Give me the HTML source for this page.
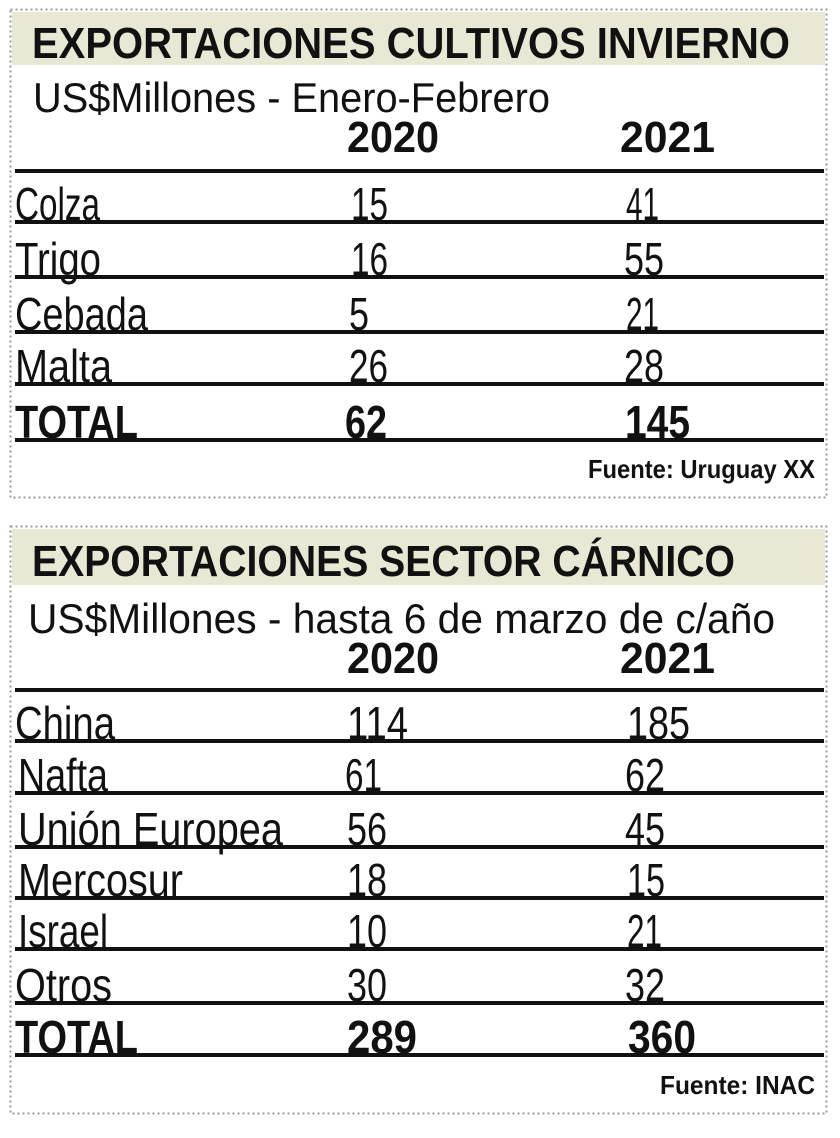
<!DOCTYPE html>
<html><head><meta charset="utf-8"><style>
html,body{margin:0;padding:0;background:#fff;}
svg{display:block;}
text{font-family:"Liberation Sans Narrow","Liberation Sans",sans-serif;fill:#111;}
.h{font-weight:bold;font-size:44px;}
.s{font-size:42px;}
.y{font-size:44px;font-weight:bold;}
.r{font-size:46px;}
.t{font-size:46px;font-weight:bold;}
.f{font-size:26px;font-weight:bold;}
</style></head><body>
<svg width="840" height="1138" viewBox="0 0 840 1138" xmlns="http://www.w3.org/2000/svg">
<rect x="0" y="0" width="840" height="1138" fill="#fff"/>
<rect x="10.5" y="9.5" width="816" height="488" fill="none" stroke="#999" stroke-width="2" stroke-dasharray="2,3"/>
<rect x="12" y="12" width="813" height="53" fill="#e8e8d4"/>
<text class="h" x="32" y="58" textLength="758" lengthAdjust="spacingAndGlyphs">EXPORTACIONES CULTIVOS INVIERNO</text>
<text class="s" x="33" y="112" textLength="517" lengthAdjust="spacingAndGlyphs">US$Millones - Enero-Febrero</text>
<text class="y" x="347" y="152" textLength="92" lengthAdjust="spacingAndGlyphs">2020</text>
<text class="y" x="620" y="152" textLength="95" lengthAdjust="spacingAndGlyphs">2021</text>
<g fill="#111">
<rect x="15" y="169" width="809" height="4"/>
<rect x="15" y="220" width="809" height="4"/>
<rect x="15" y="275" width="809" height="4"/>
<rect x="15" y="330" width="809" height="4"/>
<rect x="15" y="382" width="809" height="4"/>
<rect x="15" y="438" width="809" height="4"/>
</g>
<text class="r" x="15" y="220" textLength="85" lengthAdjust="spacingAndGlyphs">Colza</text>
<text class="r" x="351" y="220" textLength="37" lengthAdjust="spacingAndGlyphs">15</text>
<text class="r" x="626" y="220" textLength="33" lengthAdjust="spacingAndGlyphs">41</text>
<text class="r" x="15" y="275" textLength="86" lengthAdjust="spacingAndGlyphs">Trigo</text>
<text class="r" x="351" y="275" textLength="37" lengthAdjust="spacingAndGlyphs">16</text>
<text class="r" x="624" y="275" textLength="40" lengthAdjust="spacingAndGlyphs">55</text>
<text class="r" x="15" y="330" textLength="133" lengthAdjust="spacingAndGlyphs">Cebada</text>
<text class="r" x="349" y="330" textLength="20" lengthAdjust="spacingAndGlyphs">5</text>
<text class="r" x="626" y="330" textLength="33" lengthAdjust="spacingAndGlyphs">21</text>
<text class="r" x="15" y="382" textLength="97" lengthAdjust="spacingAndGlyphs">Malta</text>
<text class="r" x="349" y="382" textLength="39" lengthAdjust="spacingAndGlyphs">26</text>
<text class="r" x="624" y="382" textLength="40" lengthAdjust="spacingAndGlyphs">28</text>
<text class="t" x="15" y="438" textLength="123" lengthAdjust="spacingAndGlyphs">TOTAL</text>
<text class="t" x="345" y="438" textLength="42" lengthAdjust="spacingAndGlyphs">62</text>
<text class="t" x="625" y="438" textLength="65" lengthAdjust="spacingAndGlyphs">145</text>
<text class="f" x="588" y="478" textLength="227" lengthAdjust="spacingAndGlyphs">Fuente: Uruguay XX</text>

<rect x="10.5" y="526.5" width="816" height="587" fill="none" stroke="#999" stroke-width="2" stroke-dasharray="2,3"/>
<rect x="12" y="529" width="813" height="56" fill="#e8e8d4"/>
<text class="h" x="32" y="576" textLength="703" lengthAdjust="spacingAndGlyphs">EXPORTACIONES SECTOR CÁRNICO</text>
<text class="s" x="28" y="633" textLength="747" lengthAdjust="spacingAndGlyphs">US$Millones - hasta 6 de marzo de c/año</text>
<text class="y" x="347" y="673" textLength="92" lengthAdjust="spacingAndGlyphs">2020</text>
<text class="y" x="620" y="673" textLength="95" lengthAdjust="spacingAndGlyphs">2021</text>
<g fill="#111">
<rect x="15" y="688" width="809" height="4"/>
<rect x="15" y="739" width="809" height="4"/>
<rect x="15" y="791" width="809" height="4"/>
<rect x="15" y="845" width="809" height="4"/>
<rect x="15" y="896" width="809" height="4"/>
<rect x="15" y="947" width="809" height="4"/>
<rect x="15" y="1001" width="809" height="4"/>
<rect x="15" y="1053" width="809" height="4"/>
</g>
<text class="r" x="15" y="739" textLength="100" lengthAdjust="spacingAndGlyphs">China</text>
<text class="r" x="347" y="739" textLength="61" lengthAdjust="spacingAndGlyphs">114</text>
<text class="r" x="627" y="739" textLength="63" lengthAdjust="spacingAndGlyphs">185</text>
<text class="r" x="18" y="791" textLength="90" lengthAdjust="spacingAndGlyphs">Nafta</text>
<text class="r" x="345" y="791" textLength="37" lengthAdjust="spacingAndGlyphs">61</text>
<text class="r" x="625" y="791" textLength="40" lengthAdjust="spacingAndGlyphs">62</text>
<text class="r" x="18" y="845" textLength="265" lengthAdjust="spacingAndGlyphs">Unión Europea</text>
<text class="r" x="347" y="845" textLength="40" lengthAdjust="spacingAndGlyphs">56</text>
<text class="r" x="625" y="845" textLength="40" lengthAdjust="spacingAndGlyphs">45</text>
<text class="r" x="18" y="896" textLength="165" lengthAdjust="spacingAndGlyphs">Mercosur</text>
<text class="r" x="347" y="896" textLength="40" lengthAdjust="spacingAndGlyphs">18</text>
<text class="r" x="627" y="896" textLength="38" lengthAdjust="spacingAndGlyphs">15</text>
<text class="r" x="18" y="947" textLength="90" lengthAdjust="spacingAndGlyphs">Israel</text>
<text class="r" x="347" y="947" textLength="40" lengthAdjust="spacingAndGlyphs">10</text>
<text class="r" x="627" y="947" textLength="35" lengthAdjust="spacingAndGlyphs">21</text>
<text class="r" x="15" y="1001" textLength="97" lengthAdjust="spacingAndGlyphs">Otros</text>
<text class="r" x="347" y="1001" textLength="40" lengthAdjust="spacingAndGlyphs">30</text>
<text class="r" x="625" y="1001" textLength="40" lengthAdjust="spacingAndGlyphs">32</text>
<text class="t" x="15" y="1053" textLength="123" lengthAdjust="spacingAndGlyphs">TOTAL</text>
<text class="t" x="347" y="1053" textLength="70" lengthAdjust="spacingAndGlyphs">289</text>
<text class="t" x="628" y="1053" textLength="68" lengthAdjust="spacingAndGlyphs">360</text>
<text class="f" x="660" y="1094" textLength="155" lengthAdjust="spacingAndGlyphs">Fuente: INAC</text>
</svg>
</body></html>
